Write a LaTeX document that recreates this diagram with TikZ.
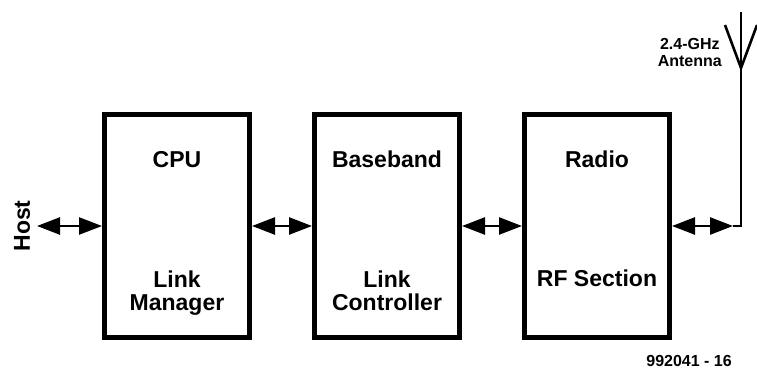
\documentclass[tikz,border=0pt]{standalone}
\usepackage{fontspec}
\setmainfont{Liberation Sans}
\usetikzlibrary{arrows.meta}
\begin{document}
\begin{tikzpicture}[x=1pt,y=-1pt,
  blockbox/.style={draw=black,line width=5pt,minimum width=145pt,minimum height=223pt,inner sep=0pt},
  bigtext/.style={font=\bfseries\fontsize{23}{23}\selectfont,align=center,inner sep=0pt,anchor=base},
  smalltext/.style={font=\bfseries\fontsize{16}{17}\selectfont,align=center,inner sep=0pt},
  dbl/.style={line width=2.5pt,{Triangle[length=23pt,width=17pt]}-{Triangle[length=23pt,width=17pt]}},
  wire/.style={line width=2.6pt,line join=miter}]
\path[use as bounding box] (0,0) rectangle (757,371);
% blocks
\node[blockbox] (cpu) at (177,226) {};
\node[blockbox] (bb) at (387,226) {};
\node[blockbox] (radio) at (597,226) {};
% texts
\node[bigtext] (cputop) at (177,168) {CPU};
\node[bigtext] (cpubot) at (177,310) {Link\\Manager};
\node[bigtext] (bbtop) at (387,168) {Baseband};
\node[bigtext] (bbbot) at (387,310) {Link\\Controller};
\node[bigtext] (radiotop) at (597,168) {Radio};
\node[bigtext] (radiobot) at (597,287) {RF Section};
% host
\node[bigtext,anchor=center,rotate=90] (host) at (22,226) {Host};
\coordinate (hostend) at (37,226);
\draw[dbl] (hostend) -- (cpu.west);
\draw[dbl] (cpu.east) -- (bb.west);
\draw[dbl] (bb.east) -- (radio.west);
% antenna
\coordinate (feed) at (733,226);
\coordinate (antbase) at (741,226);
\coordinate (anttop) at (741,12);
\coordinate (vertex) at (741,68);
\coordinate (armL) at (725,25);
\coordinate (armR) at (757,25);
\draw[wire] (feed) -- (antbase) -- (anttop);
\draw[wire] (armL) -- (vertex) -- (armR);
\draw[dbl] (radio.east) -- (feed);
\node[smalltext,anchor=base east] (antlabel) at (722,67) {2.4-GHz\\Antenna};
% figure number
\node[smalltext,anchor=base east] (fignum) at (732,366) {992041 - 16};
\end{tikzpicture}
\end{document}
